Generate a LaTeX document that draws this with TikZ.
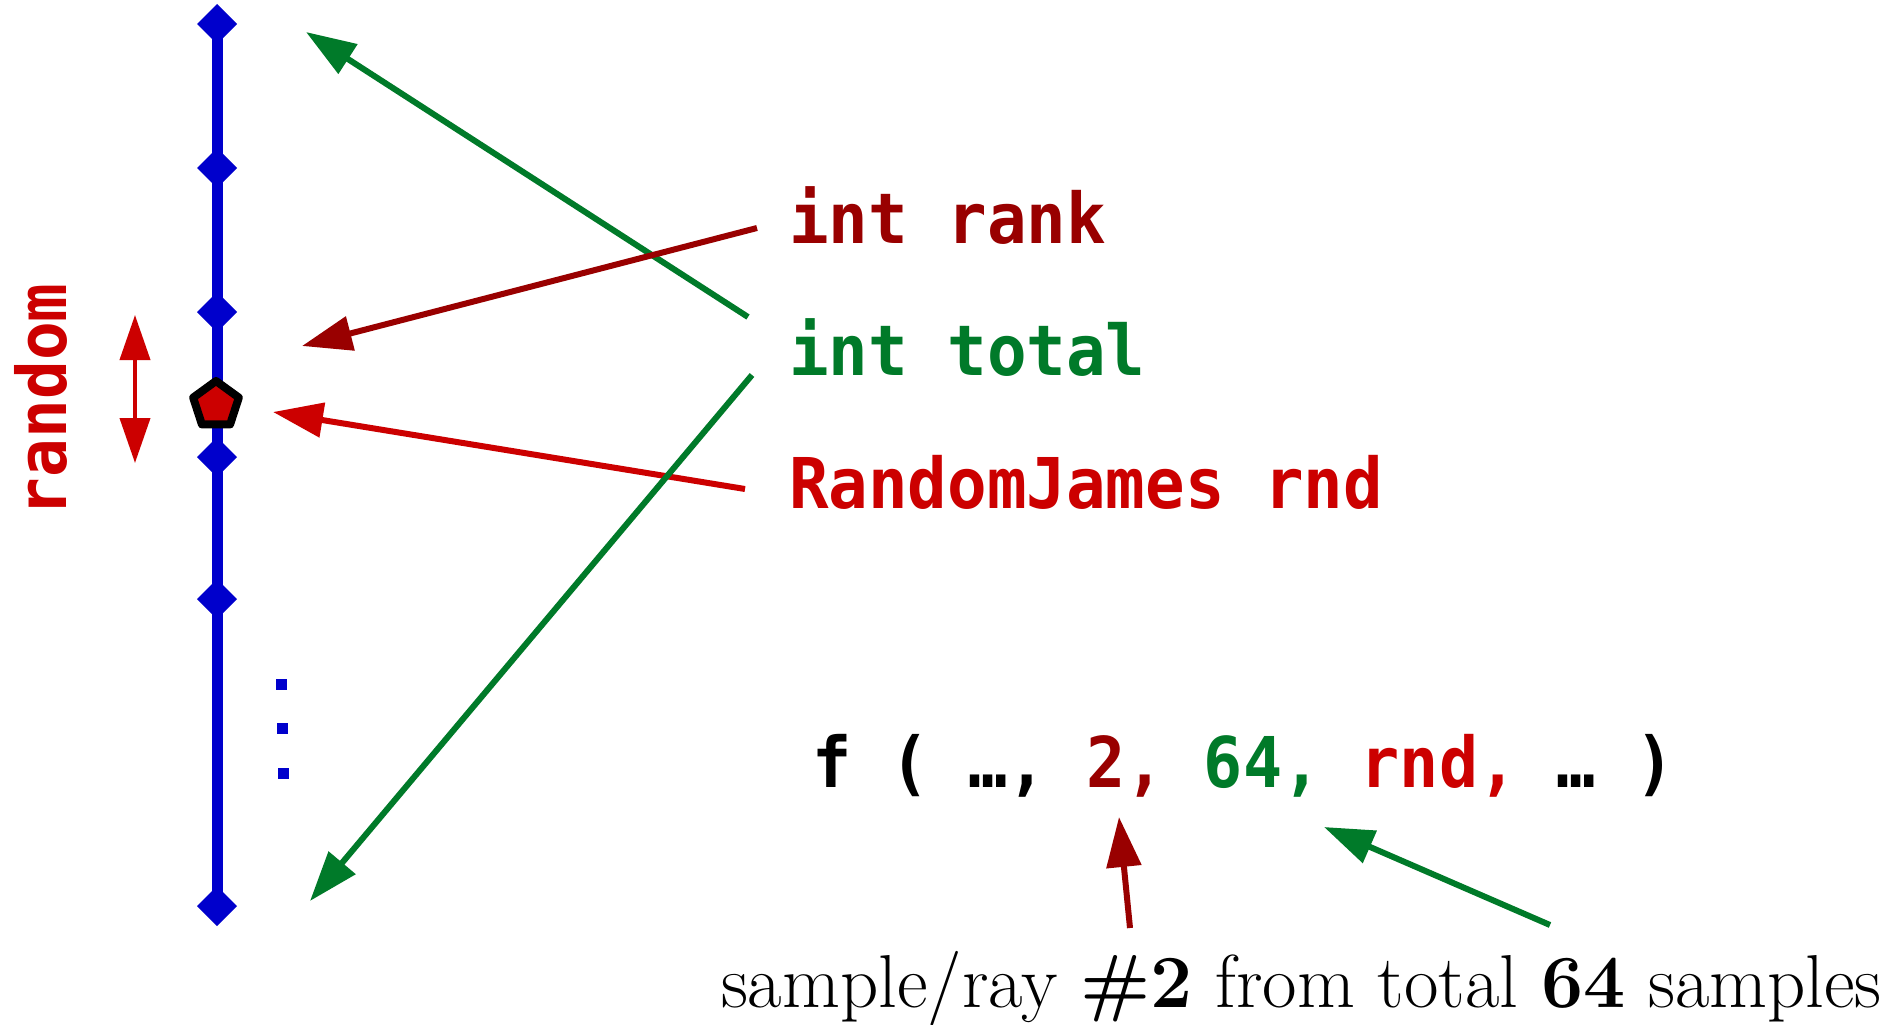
\documentclass[tikz,border=0pt]{standalone}
\usepackage{fontspec}
\usepackage{graphicx}
\usetikzlibrary{arrows.meta,calc}
\newfontfamily\codefont{DejaVu Sans Mono}
\definecolor{cblue}{RGB}{0,0,204}
\definecolor{cred}{RGB}{204,0,0}
\definecolor{cdred}{RGB}{153,0,0}
\definecolor{cgreen}{RGB}{0,122,41}
\newcommand{\codetxt}[2][0.94]{\scalebox{#1}[1]{\codefont\bfseries\fontsize{70}{70}\selectfont #2}}
\begin{document}
\begin{tikzpicture}[x=1pt,y=-1pt,
  lbl/.style={inner sep=0pt, outer sep=0pt, anchor=base west},
  conn/.style={line width=6pt, -{Triangle[length=50pt,width=34pt]}},
  dot/.style={fill=cblue, draw=none, minimum size=11pt, inner sep=0pt, shape=rectangle}
]
\useasboundingbox (0,0) rectangle (1899,1025);
\fill[white] (0,0) rectangle (1899,1025);

% axis
\coordinate (ax1) at (217,24);
\coordinate (ax2) at (217,168);
\coordinate (ax3) at (217,312);
\coordinate (ax4) at (217,457);
\coordinate (ax5) at (217,599);
\coordinate (ax6) at (217,906);
\draw[cblue, line width=11pt] (ax1) -- (ax6);
\foreach \p in {ax1,ax2,ax3,ax4,ax5,ax6}{
  \fill[cblue] ($(\p)+(-20,0)$) -- ($(\p)+(0,-20)$) -- ($(\p)+(20,0)$) -- ($(\p)+(0,20)$) -- cycle;
}

% pentagon marker
\coordinate (pent) at (216,405);
\draw[fill=cred, draw=black, line width=8pt, line join=round]
  ($(pent)+(90:-24)$) -- ($(pent)+(162:-24)$) -- ($(pent)+(234:-24)$) -- ($(pent)+(306:-24)$) -- ($(pent)+(18:-24)$) -- cycle;

% dots
\node[dot] (d1) at (281.5,684) {};
\node[dot] (d2) at (282.5,728.5) {};
\node[dot] (d3) at (283.5,773.5) {};

% random double arrow
\coordinate (rt) at (135,315);
\coordinate (rb) at (135,463);
\draw[cred, line width=4pt, {Triangle[length=45pt,width=30pt]}-{Triangle[length=45pt,width=30pt]}] (rt) -- (rb);
\node[lbl, rotate=90, text=cred] (random) at (66,516) {\scalebox{0.94}[1]{\codefont\bfseries\fontsize{68.5}{68.5}\selectfont random}};

% code labels
\node[lbl, text=cdred] (rank) at (789,243) {\codetxt{int rank}};
\node[lbl, text=cgreen] (total) at (789,375) {\codetxt{int total}};
\node[lbl, text=cred] (rnd) at (789,508) {\codetxt{RandomJames rnd}};
\node[lbl] (call) at (812,787) {\codetxt[0.93]{f ( …, \textcolor{cdred}{2,} \textcolor{cgreen}{64,} \textcolor{cred}{rnd,} … )}};
\node[lbl] (caption) at (721,1007) {\fontsize{75}{75}\selectfont sample/ray \textbf{\#2} from total \textbf{64} samples};

% arrow endpoints
\coordinate (totA) at (748,317);
\coordinate (topT) at (306,32);
\coordinate (rankS) at (757,228);
\coordinate (rankT) at (302,346);
\coordinate (rndS) at (745,489);
\coordinate (rndT) at (273,412);
\coordinate (totB) at (752,375);
\coordinate (botT) at (310,901);
\coordinate (capA) at (1130,928);
\coordinate (twoT) at (1119,817);
\coordinate (capB) at (1550,925);
\coordinate (sixT) at (1324,827);

\draw[conn, cgreen] (totA) -- (topT);
\draw[conn, cdred] (rankS) -- (rankT);
\draw[conn, cred] (rndS) -- (rndT);
\draw[conn, cgreen] (totB) -- (botT);
\draw[conn, cdred] (capA) -- (twoT);
\draw[conn, cgreen] (capB) -- (sixT);
\end{tikzpicture}
\end{document}
